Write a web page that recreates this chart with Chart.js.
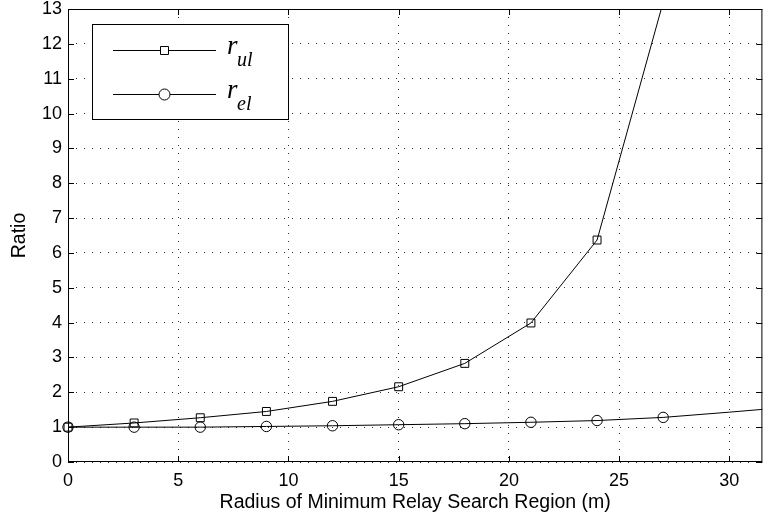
<!DOCTYPE html>
<html>
<head>
<meta charset="utf-8">
<script src="https://cdn.jsdelivr.net/npm/chart.js@4/dist/chart.umd.min.js"></script>
<style>
    html, body { margin: 0; padding: 0; background: #fff; }
    #wrap { width: 769px; height: 519px; position: relative; }
</style>
</head>
<body>
<div id="wrap"><canvas id="ratioChart" width="769" height="519"></canvas></div>
<script>
// values
const radius = [0, 3, 6, 9, 12, 15, 18, 21, 24, 27, 30, 33];
const rUl = [1.0, 1.12, 1.27, 1.45, 1.74, 2.16, 2.83, 3.99, 6.37, 13.2];
const rEl = [1.0, 1.0, 1.0, 1.02, 1.04, 1.07, 1.1, 1.14, 1.19, 1.28, 1.43, 1.59];
const xTicks = [0, 5, 10, 15, 20, 25, 30];
const yTicks = [0, 1, 2, 3, 4, 5, 6, 7, 8, 9, 10, 11, 12, 13];
const lastMarkerX = 27; // r_el line goes on past the last marker

const toPoints = (ys) => ys.map((y, i) => ({ x: radius[i], y: y }));

// box round the plot, inward ticks and the legend, MATLAB style
const framePlugin = {
    id: 'frame',
    afterDraw(chart) {
        const { ctx, chartArea: a, scales } = chart;
        ctx.save();
        ctx.strokeStyle = '#000';
        ctx.lineWidth = 1;
        ctx.strokeRect(a.left + 0.5, a.top + 0.5, a.right - a.left - 1, a.bottom - a.top - 1);

        const tl = 6;
        ctx.beginPath();
        xTicks.forEach(v => {
            const px = Math.round(scales.x.getPixelForValue(v)) + 0.5;
            ctx.moveTo(px, a.bottom); ctx.lineTo(px, a.bottom - tl);
            ctx.moveTo(px, a.top); ctx.lineTo(px, a.top + tl);
        });
        yTicks.forEach(v => {
            const py = Math.round(scales.y.getPixelForValue(v)) + 0.5;
            ctx.moveTo(a.left, py); ctx.lineTo(a.left + tl, py);
            ctx.moveTo(a.right, py); ctx.lineTo(a.right - tl, py);
        });
        ctx.stroke();

        // legend
        const lx = 92.5, ly = 24.5, lw = 196, lh = 95;
        ctx.fillStyle = '#fff';
        ctx.fillRect(lx, ly, lw, lh);
        ctx.strokeRect(lx, ly, lw, lh);
        const rows = [
            { y: 50.5, sub: 'ul', marker: 'rect' },
            { y: 94.5, sub: 'el', marker: 'circle' }
        ];
        rows.forEach(r => {
            ctx.beginPath();
            ctx.moveTo(113, r.y); ctx.lineTo(216, r.y);
            ctx.stroke();
            ctx.beginPath();
            if (r.marker === 'rect') {
                ctx.rect(160.5, r.y - 4, 8, 8);
            } else {
                ctx.arc(164.5, r.y, 5.5, 0, Math.PI * 2);
            }
            ctx.fillStyle = '#fff';
            ctx.fill();
            ctx.stroke();
            ctx.fillStyle = '#000';
            ctx.textBaseline = 'alphabetic';
            ctx.textAlign = 'left';
            ctx.font = 'italic 27px "Liberation Serif", "Times New Roman", serif';
            ctx.fillText('r', 227, r.y + 3);
            ctx.font = 'italic 20px "Liberation Serif", "Times New Roman", serif';
            ctx.fillText(r.sub, 237, r.y + 15);
        });
        ctx.restore();
    }
};

const tickFont = { family: '"Liberation Sans", Arial, sans-serif', size: 18 };
const titleFont = { family: '"Liberation Sans", Arial, sans-serif', size: 19.5 };

const ctx = document.getElementById('ratioChart').getContext('2d');
new Chart(ctx, {
    type: 'line',
    data: {
        datasets: [{
            label: 'r_ul',
            data: toPoints(rUl),
            borderColor: '#000',
            borderWidth: 1,
            backgroundColor: 'rgba(0,0,0,0)',
            pointStyle: 'rect',
            pointRadius: 5.6,
            pointBorderWidth: 1,
            pointBorderColor: '#000',
            pointBackgroundColor: 'rgba(0,0,0,0)',
            tension: 0,
            clip: { left: 12, top: 0, right: 0, bottom: 12 }
        }, {
            label: 'r_el',
            data: toPoints(rEl),
            borderColor: '#000',
            borderWidth: 1,
            backgroundColor: 'rgba(0,0,0,0)',
            pointStyle: 'circle',
            pointRadius: c => (c.raw && c.raw.x > lastMarkerX ? 0 : 5.2),
            pointBorderWidth: 1,
            pointBorderColor: '#000',
            pointBackgroundColor: 'rgba(0,0,0,0)',
            tension: 0,
            clip: { left: 12, top: 0, right: 0, bottom: 12 }
        }]
    },
    options: {
        responsive: false,
        animation: false,
        events: [],
        layout: { padding: { top: 9, right: 1, left: 0, bottom: 0 } },
        plugins: {
            legend: { display: false },
            tooltip: { enabled: false }
        },
        scales: {
            x: {
                type: 'linear',
                min: 0,
                max: 31.5,
                afterFit: s => {
                    s.height = 57;
                    s.paddingLeft = 0;
                    s.paddingRight = 0;
                },
                afterBuildTicks: s => { s.ticks = xTicks.map(v => ({ value: v })); },
                ticks: {
                    color: '#000',
                    font: tickFont,
                    padding: 8,
                    maxRotation: 0
                },
                grid: {
                    color: '#333',
                    lineWidth: 1,
                    drawTicks: false
                },
                border: { display: false, dash: [1, 7] },
                title: {
                    display: true,
                    text: 'Radius of Minimum Relay Search Region (m)',
                    color: '#000',
                    font: titleFont,
                    padding: { top: 0, bottom: 5 }
                }
            },
            y: {
                type: 'linear',
                min: 0,
                max: 13,
                afterFit: s => {
                    s.width = 68;
                    s.paddingTop = 0;
                    s.paddingBottom = 0;
                },
                afterBuildTicks: s => { s.ticks = yTicks.map(v => ({ value: v })); },
                ticks: {
                    color: '#000',
                    font: tickFont,
                    padding: 6
                },
                grid: {
                    color: '#333',
                    lineWidth: 1,
                    drawTicks: false
                },
                border: { display: false, dash: [1, 7] },
                title: {
                    display: true,
                    text: 'Ratio',
                    color: '#000',
                    font: titleFont,
                    padding: { top: 8, bottom: 0 }
                }
            }
        }
    },
    plugins: [framePlugin]
});
</script>
</body>
</html>
